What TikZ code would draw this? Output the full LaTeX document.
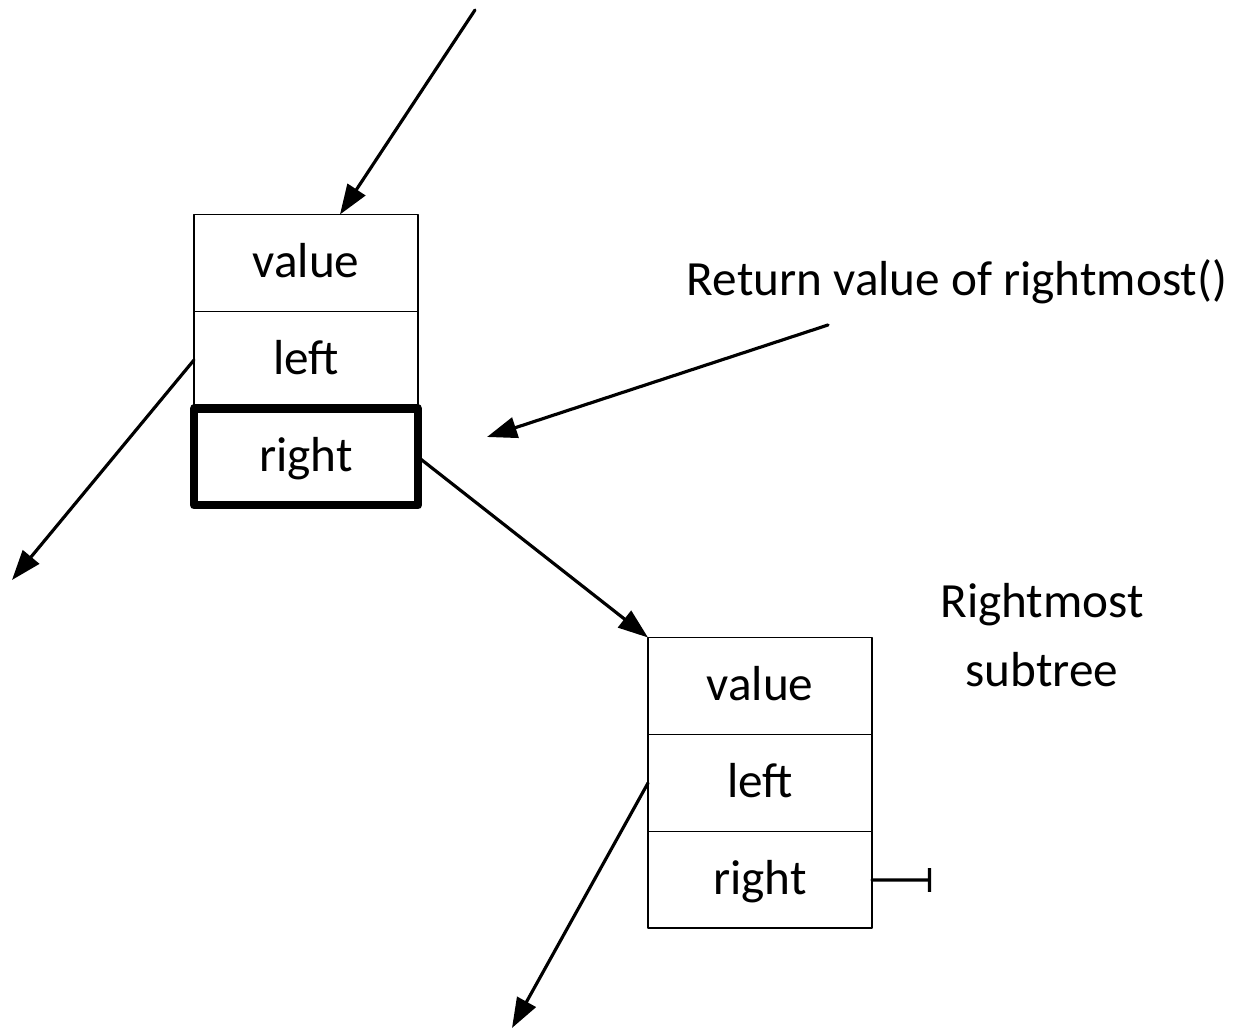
\documentclass[tikz,border=0pt]{standalone}
\usepackage{fontspec}
\setmainfont{Carlito}
\usetikzlibrary{arrows.meta,positioning}

\begin{document}
\begin{tikzpicture}[
  x=0.02cm, y=-0.02cm,
  line join=round, line cap=round,
  cell/.style={draw, line width=1.1pt, minimum width=4.48cm, minimum height=1.94cm,
    outer sep=0pt, inner sep=0pt, text height=17pt, text depth=0pt,
    font=\fontsize{28}{32}\selectfont},
  picked/.style={line width=4.6pt},
  link/.style={line width=1.8pt, -{Triangle[length=0.6cm,width=0.42cm]}},
  note/.style={font=\fontsize{28}{39.5}\selectfont, align=center},
]
\useasboundingbox (0,0) rectangle (1255,1033);

% the upper node
\node[cell] (topval) at (306,263) {value};
\node[cell, below=0pt of topval] (topleft) {left};
\node[cell, picked, below=0pt of topleft] (topright) {right};

% the lower node
\node[cell] (botval) at (760,686) {value};
\node[cell, below=0pt of botval] (botleft) {left};
\node[cell, below=0pt of botleft] (botright) {right};

% texts
\node[note] (rettext) at (957,282) {Return value of rightmost()};
\node[note] (subtext) at (1042,635) {Rightmost\\subtree};

% free ends
\coordinate (parent) at (475,10);
\coordinate (topout) at (12,580);
\coordinate (botout) at (512,1028);
\coordinate (retfrom) at (828,325);
\coordinate (retto) at (487,437);
\coordinate (nullend) at (931,880);

% links
\draw[link] (parent) -- ([xshift=0.68cm]topval.north);
\draw[link] (topleft.west) -- (topout);
\draw[link] (topright.east) -- (botval.north west);
\draw[link] (botleft.west) -- (botout);
\draw[link] (retfrom) -- (retto);
\draw[line width=1.8pt, -{Bar[width=0.48cm]}] (botright.east) -- (nullend);

\end{tikzpicture}
\end{document}
